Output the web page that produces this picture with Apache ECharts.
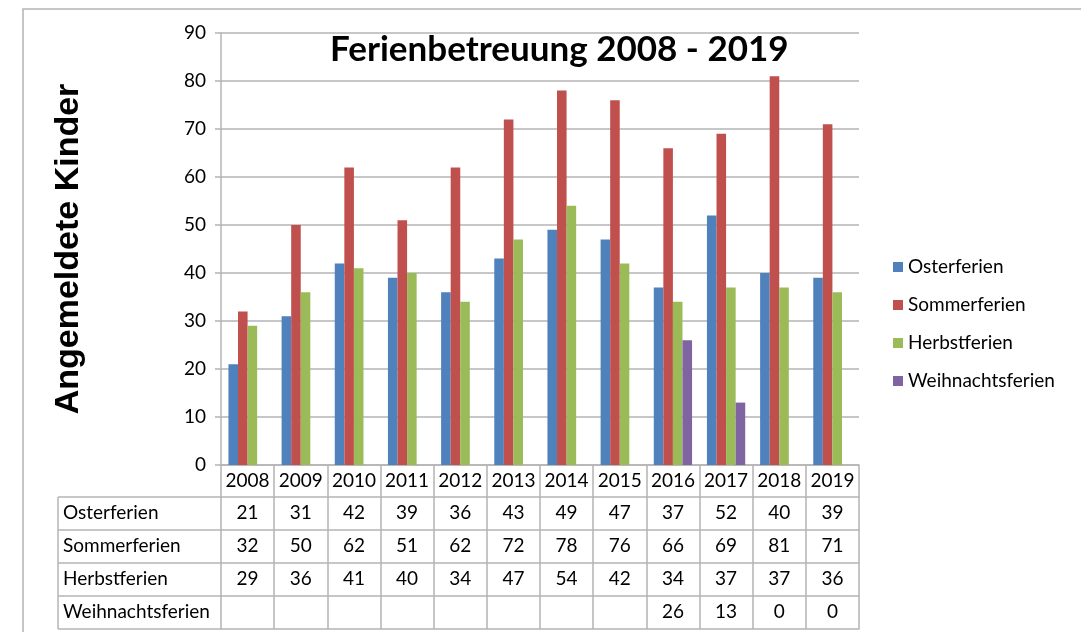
<!DOCTYPE html>
<html>
<head>
<meta charset="utf-8">
<title>Ferienbetreuung 2008 - 2019</title>
<script src="https://cdn.jsdelivr.net/npm/echarts@6/dist/echarts.min.js"></script>
<style>
  html, body { margin: 0; padding: 0; background: #fff; }
  #chart { width: 1081px; height: 632px; }
</style>
</head>
<body>
<div id="chart"></div>
<script>
// Daten
const years = ['2008', '2009', '2010', '2011', '2012', '2013', '2014', '2015', '2016', '2017', '2018', '2019'];
const seriesNames = ['Osterferien', 'Sommerferien', 'Herbstferien', 'Weihnachtsferien'];
const osterferien = [21, 31, 42, 39, 36, 43, 49, 47, 37, 52, 40, 39];
const sommerferien = [32, 50, 62, 51, 62, 72, 78, 76, 66, 69, 81, 71];
const herbstferien = [29, 36, 41, 40, 34, 47, 54, 42, 34, 37, 37, 36];
const weihnachtsferien = [null, null, null, null, null, null, null, null, 26, 13, 0, 0];
const yTicks = { min: 0, max: 90, interval: 10 };

const colors = ['#4F81BD', '#C0504D', '#9BBB59', '#8064A2'];
const values = [osterferien, sommerferien, herbstferien, weihnachtsferien];

// Layout
const gridLeft = 221, gridTop = 33, gridWidth = 638, gridHeight = 432;
const gridBottom = gridTop + gridHeight;
const tableLeft = 58;
const rowOffsets = [0, 32, 65, 98, 131, 164];   // Oberkanten der Tabellenzeilen unter der Achse
const font = 'Lato';
const fontSize = 19;
const lineColor = '#b4b4b4';

const chart = echarts.init(document.getElementById('chart'));

// Tabellenzeilen als zusätzliche x-Achsen
function tableAxis(row) {
    const isHeader = row === 0;
    const isLast = row === rowOffsets.length - 1;
    const rowData = isHeader ? years : (isLast ? null : values[row - 1]);
    return {
        type: 'category',
        gridIndex: 0,
        position: 'bottom',
        offset: rowOffsets[row],
        data: years,
        name: (!isHeader && !isLast) ? seriesNames[row - 1] : '',
        nameLocation: 'start',
        nameGap: gridLeft - tableLeft - 5,
        nameTextStyle: {
            fontFamily: font, fontSize: fontSize, color: '#000',
            align: 'left', verticalAlign: 'top', padding: [6, 0, 0, 0]
        },
        axisLine: { show: true, lineStyle: { color: lineColor, width: 1.5 } },
        axisTick: {
            show: !isLast, interval: 0, alignWithLabel: false,
            length: rowOffsets[Math.min(row + 1, rowOffsets.length - 1)] - rowOffsets[row],
            lineStyle: { color: lineColor, width: 1.5 }
        },
        axisLabel: {
            show: !isLast, interval: 0, margin: 6,
            fontFamily: font, fontSize: fontSize, color: '#000',
            formatter: function (v, i) {
                if (!rowData) return '';
                const d = rowData[i];
                return d === null || d === undefined ? '' : String(d);
            }
        },
        splitLine: { show: false }
    };
}

const xAxes = [];
for (let r = 0; r < rowOffsets.length; r++) {
    xAxes.push(tableAxis(r));
}

// Linke Spalte der Tabelle (Rahmen)
const tableLines = [];
for (let r = 1; r < rowOffsets.length; r++) {
    tableLines.push({
        type: 'line',
        shape: { x1: tableLeft, y1: gridBottom + rowOffsets[r], x2: gridLeft, y2: gridBottom + rowOffsets[r] },
        style: { stroke: lineColor, lineWidth: 1.5 }
    });
}
tableLines.push({
    type: 'line',
    shape: { x1: tableLeft, y1: gridBottom + rowOffsets[1], x2: tableLeft, y2: gridBottom + rowOffsets[rowOffsets.length - 1] },
    style: { stroke: lineColor, lineWidth: 1.5 }
});

const option = {
    animation: false,
    backgroundColor: '#fff',
    color: colors,
    title: {
        text: 'Ferienbetreuung 2008 - 2019',
        left: 325,
        top: 27,
        textStyle: { fontFamily: font, fontSize: 35, fontWeight: 'bold', color: '#000' }
    },
    legend: {
        orient: 'vertical',
        left: 888,
        top: 252,
        itemWidth: 10,
        itemHeight: 10,
        itemGap: 18,
        icon: 'rect',
        data: seriesNames,
        textStyle: { fontFamily: font, fontSize: 19, color: '#000', lineHeight: 20 }
    },
    graphic: [
        {
            type: 'rect',
            shape: { x: 23, y: 9, width: 1200, height: 800 },
            style: { fill: 'none', stroke: '#b4b4b4', lineWidth: 1.5 },
            silent: true
        }
    ].concat(tableLines),
    grid: {
        left: gridLeft,
        top: gridTop,
        width: gridWidth,
        height: gridHeight,
        containLabel: false,
        outerBoundsMode: 'none'
    },
    xAxis: xAxes,
    yAxis: {
        type: 'value',
        min: yTicks.min,
        max: yTicks.max,
        interval: yTicks.interval,
        name: 'Angemeldete Kinder',
        nameLocation: 'middle',
        nameRotate: 90,
        nameGap: 135,
        nameTextStyle: { fontFamily: 'Liberation Sans', fontSize: 34, fontWeight: 'bold', color: '#000' },
        axisLine: { show: true, lineStyle: { color: lineColor, width: 1.5 } },
        axisTick: { show: true, length: 6, lineStyle: { color: lineColor, width: 1.5 } },
        axisLabel: { fontFamily: font, fontSize: fontSize, color: '#000', margin: 15 },
        splitLine: { show: true, lineStyle: { color: lineColor, width: 1.5 } }
    },
    series: seriesNames.map(function (name, i) {
        return {
            name: name,
            type: 'bar',
            data: values[i],
            barGap: '0%',
            barCategoryGap: '28%',
            xAxisIndex: 0
        };
    })
};

chart.setOption(option);
</script>
</body>
</html>
